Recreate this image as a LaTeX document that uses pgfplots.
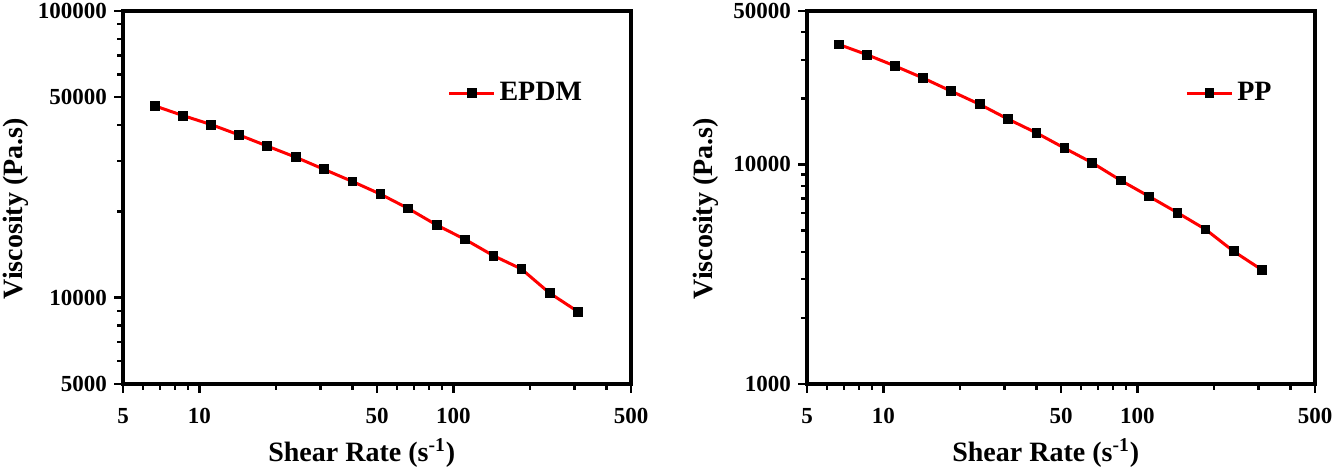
\documentclass[border=0pt]{standalone}
\usepackage{fontspec}
\setmainfont{Liberation Serif}
\usepackage{pgfplots}
\pgfplotsset{compat=1.18}
\pgfplotsset{
  vstyle/.style={
    scale only axis, width=254pt, height=186.5pt,
    xmin=5, xmax=500,
    xtick={5,10,50,100,500}, xticklabels={5,10,50,100,500},
    minor xtick={6,7,8,9,20,30,40,60,70,80,90,200,300,400},
    tick pos=left, tick align=outside,
    major tick length=4.5pt, minor tick length=3pt,
    major tick style={black, line width=1.2pt},
    minor tick style={black, line width=1.2pt},
    axis line style={line width=1.7pt},
    /pgf/number format/assume math mode=true,
    tick label style={font=\bfseries\fontsize{11.5}{12}\selectfont},
    label style={font=\bfseries\fontsize{14}{16}\selectfont},
    xlabel={Shear Rate (s\textsuperscript{-1})},
    ylabel={Viscosity (Pa.s)},
    xlabel style={at={(axis description cs:0.47,0)}, anchor=center, yshift=-34.5pt},
    xticklabel style={yshift=-4pt},
    legend style={draw=none, fill=none, anchor=west, inner sep=0pt,
      font=\bfseries\fontsize{14}{16}\selectfont},
    legend cell align=left,
    legend image code/.code={\draw[##1, mark repeat=2, mark phase=2] plot coordinates {(0pt,0pt)(11.25pt,0pt)(22.5pt,0pt)};},
  },
  pstyle/.style={red, line width=1.5pt, mark=square*, mark size=2.2pt,
    mark options={black, fill=black, solid, line width=0.4pt}},
}
\begin{document}
\begin{tikzpicture}
\useasboundingbox (0,0) rectangle (667.5pt,236.5pt);
\begin{loglogaxis}[vstyle, at={(61.5pt,44.5pt)}, anchor=south west,
  ymin=5000, ymax=100000,
  ytick={5000,10000,50000,100000}, yticklabels={5000,10000,50000,100000},
  minor ytick={6000,7000,8000,9000,20000,30000,40000,60000,70000,80000,90000},
  ylabel style={at={(axis description cs:-0.211,0.47)}, anchor=center},
  legend style={at={(axis description cs:0.638,0.78)}}]
\addplot[pstyle] coordinates {
(6.66,46700) (8.61,43180) (11.1,40180) (14.3,36980) (18.4,33850) (23.9,30920)
(30.8,28080) (40.0,25430) (51.6,22970) (66.3,20480) (85.9,17920) (111.1,15970)
(143.7,14010) (185.2,12590) (239,10380) (309,8940)};
\addlegendentry{EPDM}
\end{loglogaxis}
\begin{loglogaxis}[vstyle, at={(403.5pt,44.5pt)}, anchor=south west,
  ymin=1000, ymax=50000,
  ytick={1000,10000,50000}, yticklabels={1000,10000,50000},
  minor ytick={2000,3000,4000,5000,6000,7000,8000,9000,20000,30000,40000},
  ylabel style={at={(axis description cs:-0.199,0.47)}, anchor=center},
  legend style={at={(axis description cs:0.744,0.78)}}]
\addplot[pstyle] coordinates {
(6.66,35240) (8.61,31620) (11.1,28090) (14.3,24770) (18.4,21620) (23.9,18800)
(30.8,16130) (40.0,13930) (51.6,11870) (66.3,10180) (85.9,8460) (111.1,7150)
(143.7,6030) (185.2,5065) (239,4022) (309,3310)};
\addlegendentry{PP}
\end{loglogaxis}
\end{tikzpicture}
\end{document}
